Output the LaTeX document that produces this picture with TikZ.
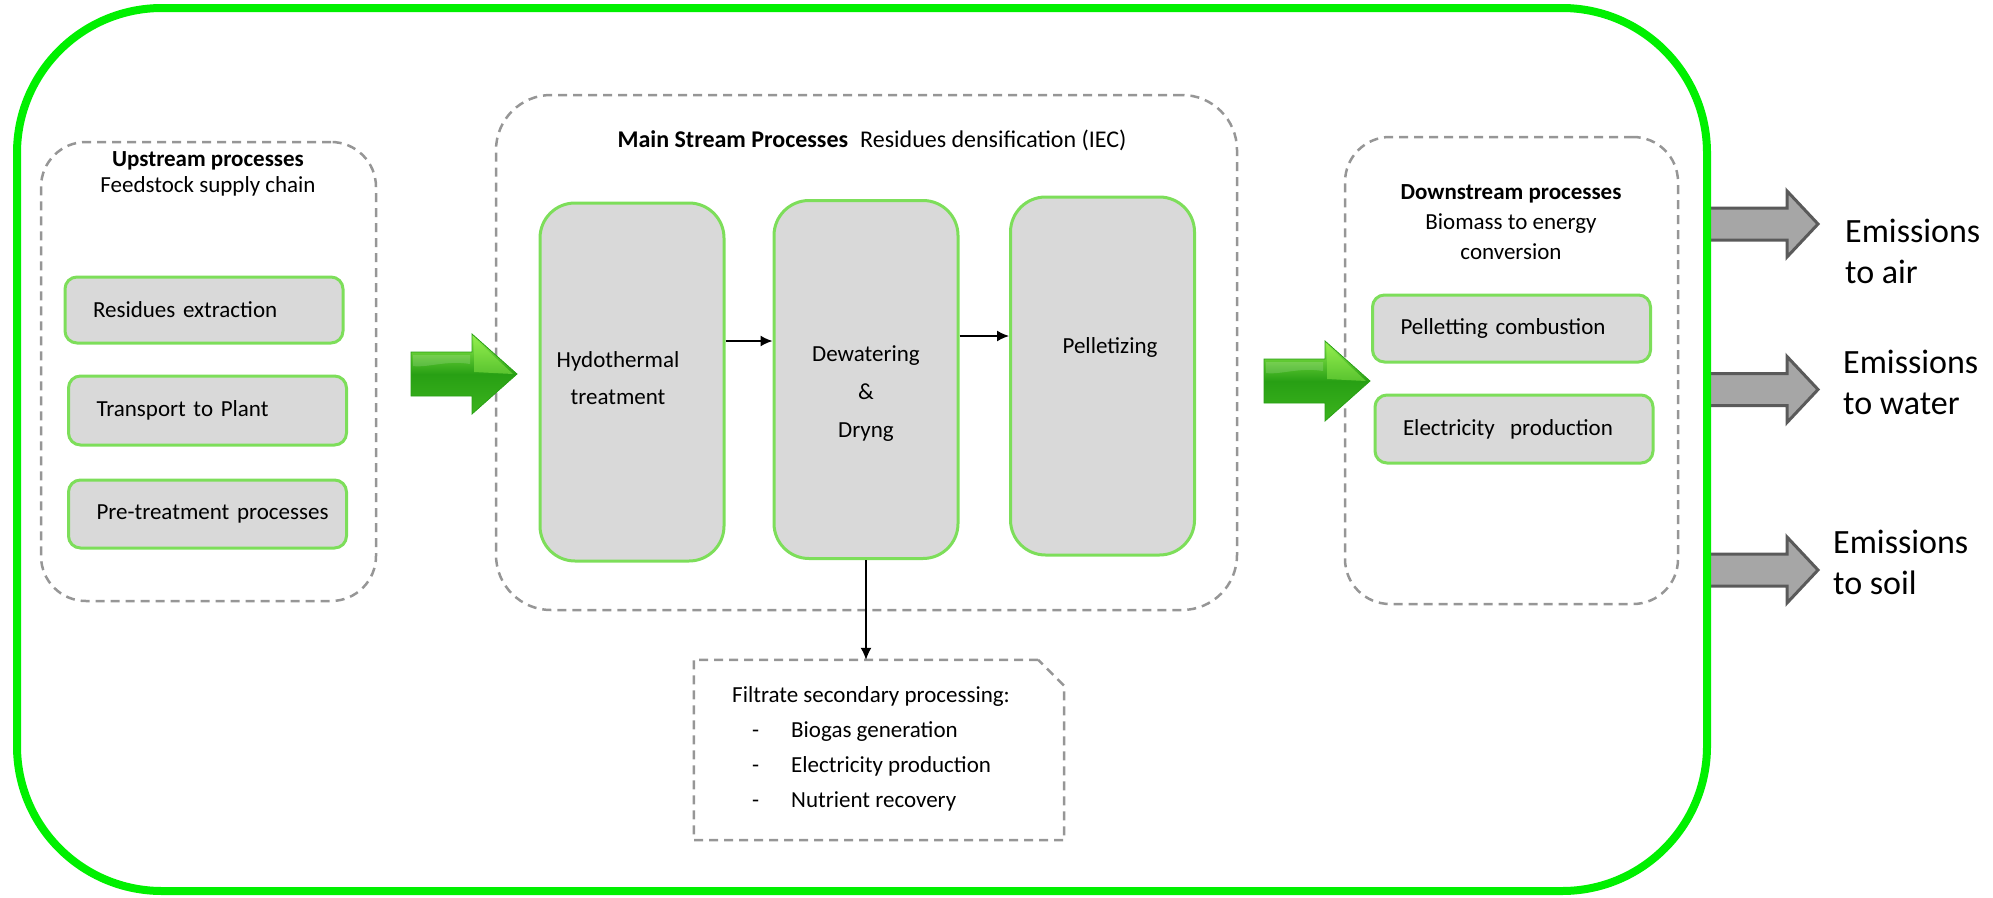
\documentclass[tikz,border=0pt]{standalone}
\usepackage{fontspec}
\setmainfont{Carlito}
\usepackage{tikz}
\usetikzlibrary{arrows.meta, calc}
\definecolor{frameGreen}{RGB}{0, 240, 0}
\definecolor{boxGreen}{RGB}{125, 222, 90}
\definecolor{boxGray}{RGB}{217, 217, 217}
\definecolor{dashGray}{RGB}{150, 150, 150}
\definecolor{arrowGray}{RGB}{166, 166, 166}
\definecolor{arrowEdge}{RGB}{90, 90, 90}
\definecolor{leafLight}{RGB}{150, 240, 80}
\definecolor{leafMid}{RGB}{40, 160, 20}
\definecolor{leafDark}{RGB}{60, 180, 30}

\tikzset{
  txt/.style={font=\fontsize{23}{27}\selectfont, text=black, inner sep=0pt},
  dashline/.style={draw=dashGray, line width=2.5pt, dash pattern=on 9pt off 6pt},
  stagebox/.style={dashline, rounded corners=#1, inner sep=0pt},
  stagebox/.default=45pt,
  procbox/.style={txt, draw=boxGreen, line width=3pt, fill=boxGray, rounded corners=12pt,
    text width=278pt, align=left, inner xsep=0pt, execute at begin node={\hspace*{28pt}}},
  tallbox/.style={draw=boxGreen, line width=3pt, fill=boxGray, rounded corners=35pt,
    minimum width=184pt, minimum height=358pt},
  flow/.style={line width=1.5pt, -{Latex[length=12pt, width=11pt]}},
  emittxt/.style={font=\fontsize{34}{41}\selectfont, text=black, align=left, anchor=west, inner sep=0pt},
  greenarrow/.pic={
    \shade[top color=leafLight, bottom color=leafDark, middle color=leafMid, draw=leafMid, line width=0.8pt]
      (-106,-22) -- (-45,-22) -- (-45,-40) -- (0,0) -- (-45,40) -- (-45,22) -- (-106,22) -- cycle;
    \fill[white, opacity=0.15] (-104,-19) -- (-47,-19) -- (-47,-10) .. controls (-70,-14) and (-90,-6) .. (-104,-8) -- cycle;
    \fill[leafLight, opacity=0.45] (-43,-36) -- (-4,0) -- (-43,-2) -- cycle;
  },
  emitarrow/.pic={
    \filldraw[fill=arrowGray, draw=arrowEdge, line width=3pt, line join=miter]
      (0,-16) -- (80,-16) -- (80,-33) -- (111,0) -- (80,33) -- (80,16) -- (0,16) -- cycle;
  },
}

\begin{document}
\begin{tikzpicture}[x=1pt, y=-1pt, line cap=butt]
  \useasboundingbox (0,0) rectangle (1993,897);

  % stages
  \node[stagebox, minimum width=335pt, minimum height=459pt] (upstream) at (208.5,371.5) {};
  \node[stagebox=55pt, minimum width=741pt, minimum height=515pt] (mainstream) at (866.5,352.5) {};
  \node[stagebox, minimum width=333pt, minimum height=467pt] (downstream) at (1511.5,370.5) {};

  \node[txt, align=center, font=\fontsize{23}{26}\selectfont] (uptitle) at (208,174) {\textbf{Upstream processes}\\Feedstock supply chain};
  \node[txt, font=\fontsize{24}{27}\selectfont] (maintitle) at (872,140) {\textbf{Main Stream Processes}\enspace Residues densification (IEC)};
  \node[txt, align=center, font=\fontsize{23}{30}\selectfont] (downtitle) at (1511,222) {\textbf{Downstream processes}\\Biomass to energy\\conversion};

  \node[procbox, minimum height=66pt] (extract) at (204,310) {Residues extraction};
  \node[procbox, minimum height=69pt] (transport) at (207.5,410.5) {Transport to Plant};
  \node[procbox, minimum height=68pt] (pretreat) at (207.5,514) {Pre-treatment processes};

  \node[tallbox] (hydro) at (632,382) {};
  \node[tallbox] (dewater) at (866,379.5) {};
  \node[tallbox] (pellet) at (1102.5,376) {};
  \node[txt, align=center, font=\fontsize{23}{37}\selectfont] (hydrotxt) at (618,378.5) {Hydothermal\\treatment};
  \node[txt, align=center, font=\fontsize{23}{38}\selectfont] (dewatertxt) at (866,394) {Dewatering\\\&\\Dryng};
  \node[txt] (pellettxt) at (1110,347) {Pelletizing};

  \node[procbox, minimum height=67pt] (combust) at (1511.5,328.5) {Pelletting combustion};
  \node[procbox, minimum height=68pt] (power) at (1514,429) {Electricity\ \ production};

  \node[minimum width=370pt, minimum height=180pt, inner sep=0pt] (filtrate) at (879,750) {};
  \draw[dashline] ([xshift=-26pt]filtrate.north east) -- (filtrate.north west) -- (filtrate.south west)
    -- (filtrate.south east) -- ([yshift=-26pt]filtrate.north east) -- cycle;
  \node[txt, align=left, font=\fontsize{23}{35}\selectfont, anchor=west] (filtratetxt) at (732,749)
    {Filtrate secondary processing:\\
     \hspace*{20pt}\makebox[39pt][l]{-}Biogas generation\\
     \hspace*{20pt}\makebox[39pt][l]{-}Electricity production\\
     \hspace*{20pt}\makebox[39pt][l]{-}Nutrient recovery};

  \coordinate (hflow) at (0,341);
  \coordinate (dflow) at (0,336);
  \draw[flow] (hydro.east |- hflow) -- (dewater.west |- hflow);
  \draw[flow] (dewater.east |- dflow) -- (pellet.west |- dflow);
  \draw[flow] (dewater.south) -- (dewater.south |- filtrate.north);

  \pic at (517,374) {greenarrow};
  \pic at (1370,381) {greenarrow};

  % emissions
  \pic at (1707,224) {emitarrow};
  \pic at (1707,389.5) {emitarrow};
  \pic at (1707,570) {emitarrow};
  \draw[frameGreen, line width=8pt, rounded corners=145pt] (17,8) rectangle (1707,891);

  \node[emittxt] (airtxt) at (1845,251) {Emissions\\to air};
  \node[emittxt] (watertxt) at (1843,382) {Emissions\\to water};
  \node[emittxt] (soiltxt) at (1833,562) {Emissions\\to soil};
\end{tikzpicture}
\end{document}
